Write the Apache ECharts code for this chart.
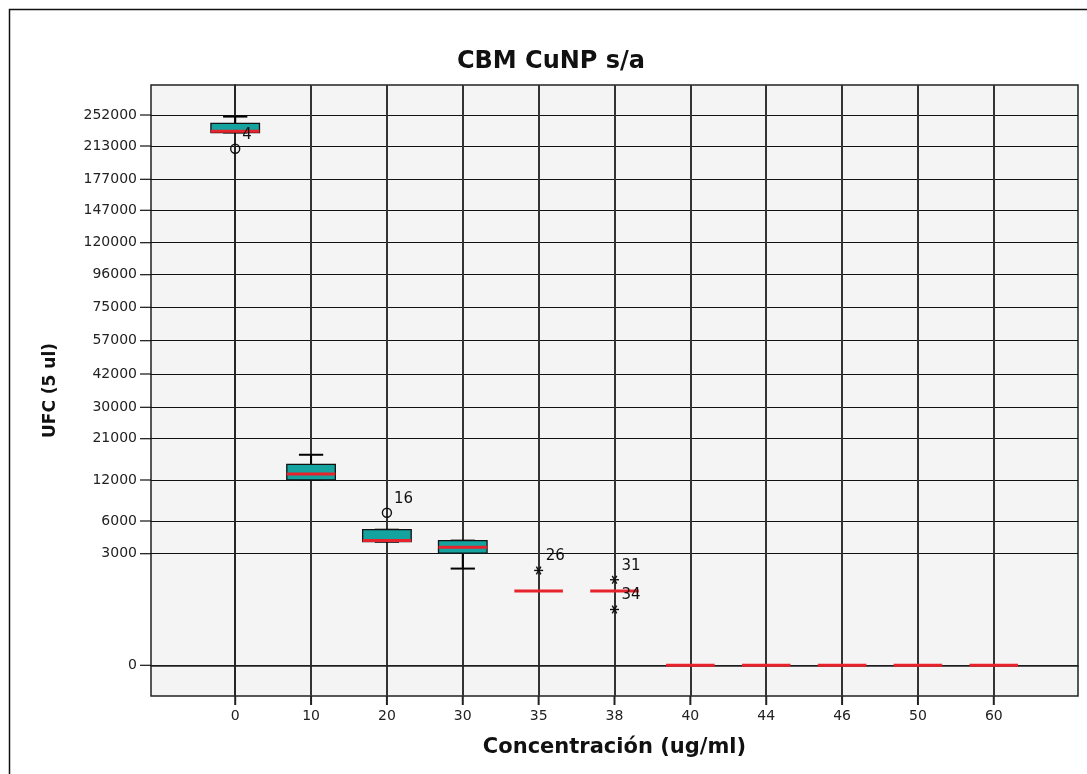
<!DOCTYPE html>
<html>
<head>
<meta charset="utf-8">
<script src="https://cdn.jsdelivr.net/npm/echarts@6/dist/echarts.min.js"></script>
<style>
  html, body { margin: 0; padding: 0; background: #ffffff; }
  #chart { width: 1087px; height: 774px; }
</style>
</head>
<body>
<div id="chart"></div>
<script>
// Concentration groups (ug/ml)
const categories = ['0', '10', '20', '30', '35', '38', '40', '44', '46', '50', '60'];

// Box statistics per group (UFC in 5 ul)
const whiskerLow  = [230000, 12000, 4100, 2600, 2000, 2000, 0, 0, 0, 0, 0];
const quartile1   = [230000, 12000, 4100, 3050, 2000, 2000, 0, 0, 0, 0, 0];
const medians     = [231500, 13300, 4200, 3600, 2000, 2000, 0, 0, 0, 0, 0];
const quartile3   = [241500, 15400, 5200, 4200, 2000, 2000, 0, 0, 0, 0, 0];
const whiskerHigh = [250000, 17500, 5200, 4200, 2000, 2000, 0, 0, 0, 0, 0];

// Outliers (circle) and extreme values (asterisk) with case numbers
const outlierGroup = [0, 2];
const outlierValue = [210000, 7200];
const outlierCase  = ['4', '16'];
const extremeGroup = [4, 5, 5];
const extremeValue = [2550, 2300, 1500];
const extremeCase  = ['26', '31', '34'];

// Y axis tick labels
const yTickValues = [0, 3000, 6000, 12000, 21000, 30000, 42000, 57000, 75000,
                     96000, 120000, 147000, 177000, 213000, 252000];

// The vertical axis is stretched non-linearly: each tick value sits at the
// following axis unit, and values between ticks are placed linearly.
const yAxisStops = [0, 111.6, 144.3, 185.3, 226.6, 258, 291.3, 324.6, 358,
                    390.6, 422.6, 455, 486, 519.3, 550.3];

const X_MIN = -1.11, X_MAX = 11.11;
const Y_MIN = -30.7, Y_MAX = 580.3;

function toAxis(v) {
  const n = yTickValues.length;
  let i = 0;
  while (i < n - 2 && v > yTickValues[i + 1]) i++;
  const v0 = yTickValues[i], v1 = yTickValues[i + 1];
  const s0 = yAxisStops[i], s1 = yAxisStops[i + 1];
  return s0 + (v - v0) / (v1 - v0) * (s1 - s0);
}

const FONT = 'DejaVu Sans';
const TEAL = '#15a3a0';
const RED = '#e8232b';

const boxData = categories.map((c, i) => [i, whiskerLow[i], quartile1[i], medians[i], quartile3[i], whiskerHigh[i]]);
const outlierData = outlierGroup.map((g, i) => [g, toAxis(outlierValue[i]), outlierCase[i]]);
const extremeData = extremeGroup.map((g, i) => [g, toAxis(extremeValue[i]), extremeCase[i]]);

function renderBox(params, api) {
  const x = api.value(0);
  const lo = api.value(1), q1 = api.value(2), md = api.value(3), q3 = api.value(4), hi = api.value(5);
  const pt = v => api.coord([x, toAxis(v)]);
  const halfW = api.size([0.64, 0])[0] / 2;
  const capW = halfW / 2;
  const cx = pt(md)[0];
  const yLo = pt(lo)[1], yQ1 = pt(q1)[1], yMd = pt(md)[1], yQ3 = pt(q3)[1], yHi = pt(hi)[1];
  const children = [];
  const ink = { stroke: '#000', lineWidth: 2 };
  if (hi > lo) {
    children.push({ type: 'line', shape: { x1: cx, y1: yHi, x2: cx, y2: yQ3 }, style: ink });
    children.push({ type: 'line', shape: { x1: cx, y1: yLo, x2: cx, y2: yQ1 }, style: ink });
    children.push({ type: 'line', shape: { x1: cx - capW, y1: yHi, x2: cx + capW, y2: yHi }, style: ink });
    children.push({ type: 'line', shape: { x1: cx - capW, y1: yLo, x2: cx + capW, y2: yLo }, style: ink });
  }
  if (q3 > q1) {
    children.push({
      type: 'rect',
      shape: { x: cx - halfW, y: yQ3, width: halfW * 2, height: yQ1 - yQ3 },
      style: { fill: TEAL, stroke: '#111', lineWidth: 1.3 }
    });
  }
  children.push({
    type: 'line',
    shape: { x1: cx - halfW, y1: yMd, x2: cx + halfW, y2: yMd },
    style: { stroke: RED, lineWidth: 3 }
  });
  return { type: 'group', children };
}

function caseLabel(p, text) {
  return {
    type: 'text',
    style: {
      x: p[0] + 7, y: p[1] - 14, text: text,
      fill: '#111', font: '15px "' + FONT + '"',
      align: 'left', verticalAlign: 'middle'
    }
  };
}

function renderOutlier(params, api) {
  const p = api.coord([api.value(0), api.value(1)]);
  return {
    type: 'group',
    children: [
      { type: 'circle', shape: { cx: p[0], cy: p[1], r: 4.5 }, style: { fill: 'none', stroke: '#111', lineWidth: 1.4 } },
      caseLabel(p, outlierCase[params.dataIndex])
    ]
  };
}

function renderExtreme(params, api) {
  const p = api.coord([api.value(0), api.value(1)]);
  const r = 4.5;
  const arms = [0, 60, 120].map(deg => {
    const a = deg * Math.PI / 180;
    return {
      type: 'line',
      shape: { x1: p[0] - r * Math.cos(a), y1: p[1] - r * Math.sin(a), x2: p[0] + r * Math.cos(a), y2: p[1] + r * Math.sin(a) },
      style: { stroke: '#111', lineWidth: 1.4 }
    };
  });
  arms.push(caseLabel(p, extremeCase[params.dataIndex]));
  return { type: 'group', children: arms };
}

// Outward tick marks on both axes, placed through the axis scales
function renderYTick(params, api) {
  const p = api.coord([X_MIN, api.value(0)]);
  return { type: 'line', shape: { x1: p[0] - 11, y1: p[1], x2: p[0], y2: p[1] }, style: { stroke: '#111', lineWidth: 1.2 } };
}
function renderXTick(params, api) {
  const p = api.coord([api.value(0), Y_MIN]);
  return { type: 'line', shape: { x1: p[0], y1: p[1], x2: p[0], y2: p[1] + 9 }, style: { stroke: '#222', lineWidth: 2 } };
}

const chart = echarts.init(document.getElementById('chart'), null, { renderer: 'canvas' });

chart.setOption({
  animation: false,
  backgroundColor: '#ffffff',
  title: {
    text: 'CBM CuNP s/a',
    left: 546,
    top: 45,
    textAlign: 'center',
    textStyle: { fontFamily: FONT, fontWeight: 'bold', fontSize: 24, color: '#111' }
  },
  graphic: [{
    type: 'rect',
    z: 0,
    silent: true,
    shape: { x: 9.5, y: 9.5, width: 1200, height: 1000 },
    style: { fill: 'none', stroke: '#111', lineWidth: 1.5 }
  }],
  grid: {
    left: 151, top: 85, right: 9, bottom: 78,
    show: true, backgroundColor: '#f4f4f4', borderColor: '#222', borderWidth: 1.5
  },
  xAxis: {
    type: 'value',
    min: X_MIN,
    max: X_MAX,
    name: 'Concentración (ug/ml)',
    nameLocation: 'middle',
    nameGap: 41,
    nameTextStyle: { fontFamily: FONT, fontWeight: 'bold', fontSize: 21, color: '#111' },
    axisLine: { show: true, lineStyle: { color: '#222', width: 1.5 } },
    axisTick: { show: false, customValues: categories.map((c, i) => i) },
    axisLabel: {
      show: true, margin: 13,
      customValues: categories.map((c, i) => i),
      formatter: v => categories[Math.round(v)],
      fontFamily: FONT, fontSize: 14, color: '#222'
    },
    splitLine: { show: true, lineStyle: { color: '#333', width: 2 } }
  },
  yAxis: {
    type: 'value',
    min: Y_MIN,
    max: Y_MAX,
    name: 'UFC (5 ul)',
    nameLocation: 'middle',
    nameGap: 92,
    nameTextStyle: { fontFamily: FONT, fontWeight: 'bold', fontSize: 17, color: '#111' },
    axisLine: { show: true, lineStyle: { color: '#222', width: 1.5 } },
    axisTick: { show: false, customValues: yAxisStops },
    axisLabel: {
      show: true, margin: 14,
      customValues: yAxisStops,
      formatter: v => {
        let best = 0;
        yAxisStops.forEach((s, i) => { if (Math.abs(s - v) < Math.abs(yAxisStops[best] - v)) best = i; });
        return String(yTickValues[best]);
      },
      fontFamily: FONT, fontSize: 14, color: '#222'
    },
    splitLine: { show: true, lineStyle: { color: '#111', width: 1.2 } }
  },
  series: [
    { type: 'custom', name: 'yTicks', renderItem: renderYTick, data: yAxisStops.map(s => [s]), clip: false, silent: true, z: 2, encode: { y: 0 } },
    { type: 'custom', name: 'xTicks', renderItem: renderXTick, data: categories.map((c, i) => [i]), clip: false, silent: true, z: 2, encode: { x: 0 } },
    { type: 'custom', name: 'box', renderItem: renderBox, data: boxData, z: 3, encode: { x: 0, y: 3 } },
    { type: 'custom', name: 'outliers', renderItem: renderOutlier, data: outlierData, z: 4, encode: { x: 0, y: 1 } },
    { type: 'custom', name: 'extremes', renderItem: renderExtreme, data: extremeData, z: 4, encode: { x: 0, y: 1 } }
  ]
});
</script>
</body>
</html>
